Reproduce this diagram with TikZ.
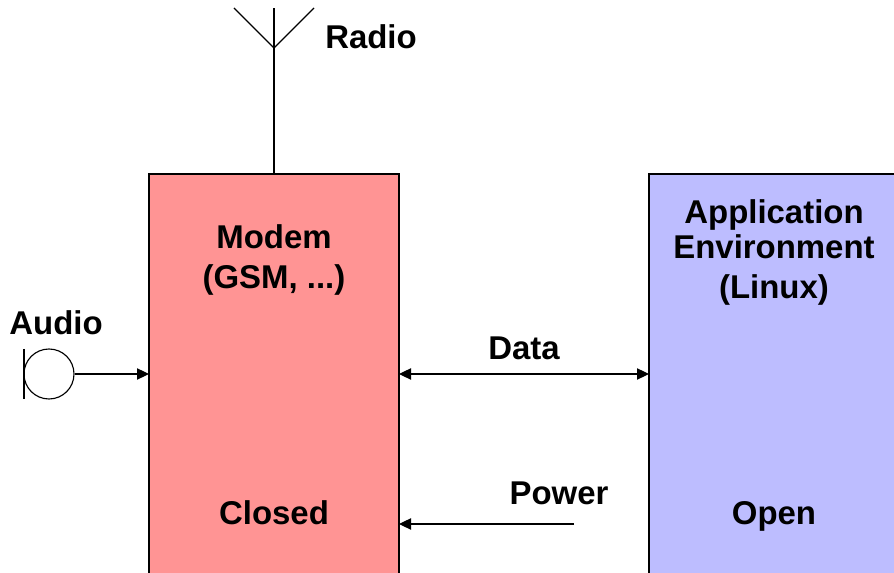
\documentclass[tikz,border=0pt]{standalone}
\usepackage{fontspec}
\setmainfont{Liberation Sans}
\usetikzlibrary{arrows.meta}
\definecolor{modemred}{RGB}{255,148,148}
\definecolor{appblue}{RGB}{189,189,255}
\tikzset{
  x=0.75pt,y=-0.75pt,
  lbl/.style={font=\bfseries\fontsize{24.7}{30}\selectfont,inner sep=0pt,anchor=base},
  conn/.style={line width=0.85pt,-{Triangle[length=9pt,width=8.5pt]}},
  biconn/.style={line width=0.85pt,{Triangle[length=9pt,width=8.5pt]}-{Triangle[length=9pt,width=8.5pt]}},
  wire/.style={line width=0.85pt}
}
\begin{document}
\begin{tikzpicture}
\useasboundingbox (0,0) rectangle (894,573);
\clip (0,0) rectangle (894,573);
\fill[modemred] (149,174) rectangle (399,600);
\fill[appblue] (649,174) rectangle (899,600);
\draw[wire] (149,600) |- (399,174) -- (399,600);
\draw[wire] (649,600) |- (899,174);
\coordinate (modemTop) at (274,174);
\coordinate (antBase) at (274,48);
\coordinate (antTop) at (274,8);
\coordinate (antL) at (234,8);
\coordinate (antR) at (314,8);
\draw[wire] (modemTop) -- (antTop);
\draw[wire] (antL) -- (antBase) -- (antR);
\node[lbl,anchor=base west] (radio) at (325,49) {Radio};
\node[lbl] (modem) at (274,249) {Modem};
\node[lbl] (gsm) at (274,289) {(GSM, ...)};
\node[lbl] (closed) at (274,524.5) {Closed};
\node[lbl] (app) at (774,224) {Application};
\node[lbl] (env) at (774,259) {Environment};
\node[lbl] (linux) at (774,299) {(Linux)};
\node[lbl] (open) at (774,525) {Open};
\node[lbl] (audio) at (56,335) {Audio};
\node[lbl] (data) at (524,360) {Data};
\node[lbl] (power) at (559,505) {Power};
\node[draw,circle,line width=0.85pt,minimum size=37.5pt,inner sep=0pt] (mic) at (49,374) {};
\coordinate (micTop) at (24,349);
\coordinate (micBot) at (24,399);
\draw[wire] (micTop) -- (micBot);
\coordinate (modemAudio) at (149,374);
\coordinate (modemData) at (399,374);
\coordinate (appData) at (649,374);
\coordinate (powerStart) at (574,524);
\coordinate (modemPower) at (399,524);
\draw[conn] (mic.east) -- (modemAudio);
\draw[biconn] (modemData) -- (appData);
\draw[conn] (powerStart) -- (modemPower);
\end{tikzpicture}
\end{document}
